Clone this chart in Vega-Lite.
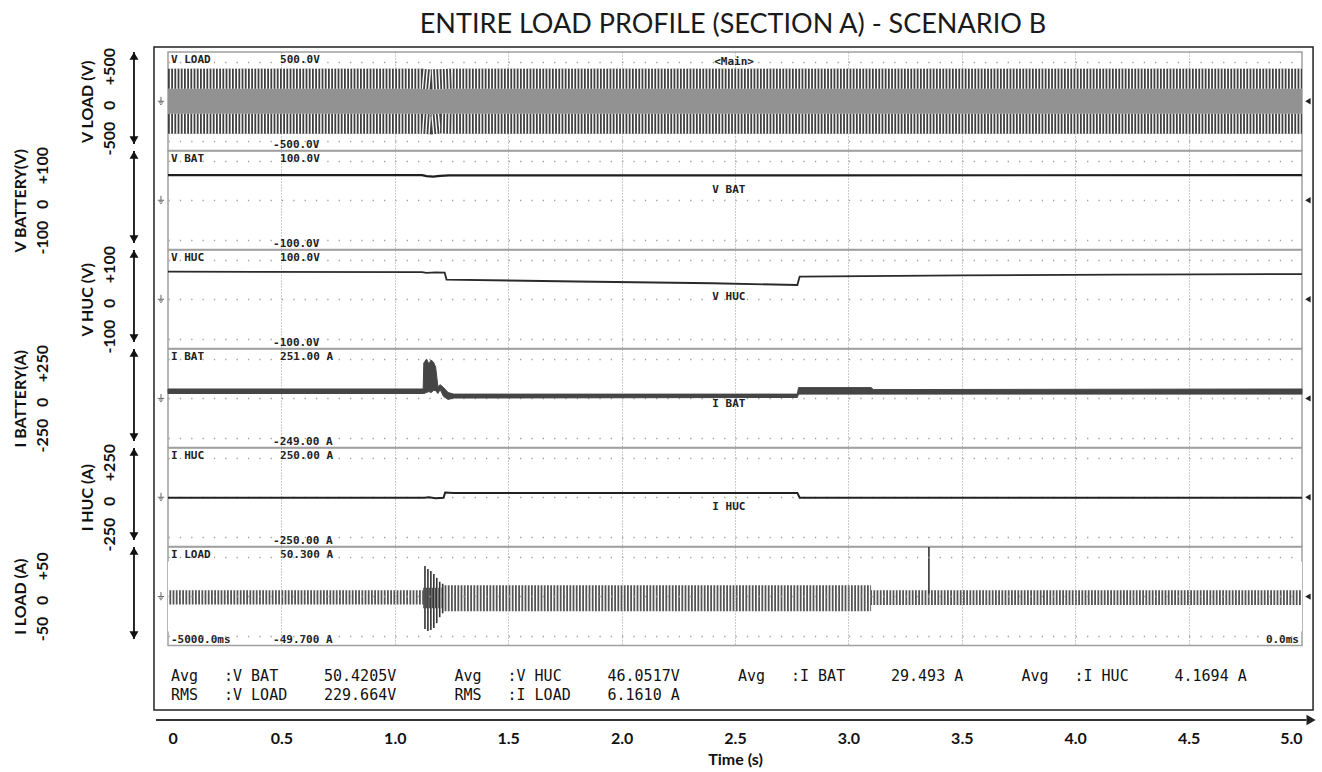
{
  "$schema": "https://vega.github.io/schema/vega-lite/v6.json",
  "background": "white",
  "padding": {"left": 11, "top": 10, "right": 6, "bottom": 4},
  "title": {"text": "ENTIRE LOAD PROFILE (SECTION A) - SCENARIO B", "font": "Lato", "fontSize": 27, "fontWeight": "normal", "color": "#1a1a1a", "anchor": "middle", "offset": -1, "dx": 6},
  "config": {
    "view": {"stroke": "#a0a0a0", "strokeWidth": 1.5},
    "axis": {"titleFont": "Lato", "titleFontSize": 16, "titleFontWeight": "bold", "titleColor": "#111111", "labelFont": "Lato"}
  },
  "data": {"values": [{}]},
  "datasets": {
    "vload": [
      {"t": 0, "hi": 330, "lo": -330},
      {"t": 1.12, "hi": 330, "lo": -330},
      {"t": 1.16, "hi": 322, "lo": -336},
      {"t": 1.2, "hi": 326, "lo": -328},
      {"t": 1.25, "hi": 330, "lo": -330},
      {"t": 5, "hi": 330, "lo": -330}
    ],
    "vbat": [
      {"t": 0, "v": 51}, {"t": 1.12, "v": 51}, {"t": 1.14, "v": 49}, {"t": 1.17, "v": 48},
      {"t": 1.2, "v": 49.5}, {"t": 1.24, "v": 50.5}, {"t": 2.78, "v": 50.5}, {"t": 5, "v": 51}
    ],
    "vhuc": [
      {"t": 0, "v": 56}, {"t": 1.12, "v": 55.2}, {"t": 1.14, "v": 53.5}, {"t": 1.18, "v": 54.5},
      {"t": 1.22, "v": 54}, {"t": 1.228, "v": 40}, {"t": 1.8, "v": 36}, {"t": 2.4, "v": 32.5},
      {"t": 2.775, "v": 29}, {"t": 2.785, "v": 46}, {"t": 3.5, "v": 48.5}, {"t": 4.2, "v": 50}, {"t": 5, "v": 51}
    ],
    "ibat": [
      {"t": 0, "hi": 48, "lo": 25}, {"t": 1.125, "hi": 48, "lo": 25}, {"t": 1.128, "hi": 180, "lo": 25},
      {"t": 1.14, "hi": 200, "lo": 30}, {"t": 1.15, "hi": 175, "lo": 35}, {"t": 1.16, "hi": 195, "lo": 30},
      {"t": 1.17, "hi": 185, "lo": 40}, {"t": 1.18, "hi": 160, "lo": 40}, {"t": 1.19, "hi": 60, "lo": 25},
      {"t": 1.2, "hi": 70, "lo": 45}, {"t": 1.215, "hi": 55, "lo": 10}, {"t": 1.235, "hi": 30, "lo": -5},
      {"t": 1.26, "hi": 22, "lo": 2}, {"t": 2.775, "hi": 22, "lo": 5}, {"t": 2.78, "hi": 55, "lo": 22},
      {"t": 3.1, "hi": 55, "lo": 22}, {"t": 3.11, "hi": 45, "lo": 22}, {"t": 5, "hi": 48, "lo": 22}
    ],
    "ihuc": [
      {"t": 0, "v": -3}, {"t": 1.13, "v": -3}, {"t": 1.15, "v": 0}, {"t": 1.18, "v": -5},
      {"t": 1.215, "v": -3}, {"t": 1.222, "v": 24}, {"t": 1.26, "v": 22}, {"t": 2.775, "v": 22},
      {"t": 2.785, "v": -2}, {"t": 5, "v": -3}
    ],
    "iload": [
      {"t": 0, "hi": 6.5, "lo": -8}, {"t": 1.125, "hi": 9, "lo": -12}, {"t": 1.215, "hi": 11.5, "lo": -15},
      {"t": 3.1, "hi": 6.5, "lo": -8.5}, {"t": 5, "hi": 6.5, "lo": -8.5}
    ],
    "ispk": [
      {"t": 1.133, "hi": 31, "lo": -33}, {"t": 1.146, "hi": 28, "lo": -35}, {"t": 1.159, "hi": 26, "lo": -34},
      {"t": 1.172, "hi": 23, "lo": -32}, {"t": 1.185, "hi": 19, "lo": -27}, {"t": 1.198, "hi": 15, "lo": -21},
      {"t": 1.211, "hi": 13, "lo": -17}, {"t": 3.355, "hi": 50.3, "lo": 3}
    ],
    "stats": [
      {"line": 1, "grp": 0, "kind": "Avg", "ch": ":V BAT", "val": "50.4205V"},
      {"line": 1, "grp": 1, "kind": "Avg", "ch": ":V HUC", "val": "46.0517V"},
      {"line": 1, "grp": 2, "kind": "Avg", "ch": ":I BAT", "val": "29.493 A"},
      {"line": 1, "grp": 3, "kind": "Avg", "ch": ":I HUC", "val": "4.1694 A"},
      {"line": 2, "grp": 0, "kind": "RMS", "ch": ":V LOAD", "val": "229.664V"},
      {"line": 2, "grp": 1, "kind": "RMS", "ch": ":I LOAD", "val": "6.1610 A"}
    ]
  },
  "spacing": 0,
  "bounds": "flush",
  "resolve": {"scale": {"x": "independent", "y": "independent"}},
  "vconcat": [
    {
      "width": 1134, "height": 98.5,
      "layer": [
        {"data": {"name": "vload"}, "mark": {"type": "area", "color": "#929292"},
         "encoding": {
           "x": {"field": "t", "type": "quantitative", "scale": {"domain": [0, 5], "nice": false, "zero": false},
                 "axis": {"values": [0.5, 1, 1.5, 2, 2.5, 3, 3.5, 4, 4.5], "grid": true, "gridDash": [1, 2], "gridColor": "#999999", "gridWidth": 1, "labels": false, "ticks": false, "domain": false, "title": null}},
           "y": {"field": "hi", "type": "quantitative", "scale": {"domain": [-500, 500], "nice": false, "zero": false},
                 "axis": {"values": [-400, -300, -200, -100, 0, 100, 200, 300, 400], "grid": true, "gridDash": [1.3, 10.04], "gridColor": "#a0a0a0", "gridWidth": 1.3, "labels": false, "ticks": false, "domain": false,
                          "title": ["V LOAD (V)", "-500\u00a0\u00a0\u00a00\u00a0\u00a0\u00a0\u00a0+500"], "titlePadding": 51, "titleLineHeight": 22, "titleAngle": -90, "titleBaseline": "bottom", "titleAlign": "center"}},
           "y2": {"field": "lo"}
         }},
        {"data": {"name": "vload"}, "mark": {"type": "line", "color": "#ffffff", "strokeWidth": 20, "yOffset": 10},
         "encoding": {"x": {"field": "t", "type": "quantitative"}, "y": {"field": "hi", "type": "quantitative"}}},
        {"data": {"name": "vload"}, "mark": {"type": "line", "color": "#404040", "strokeWidth": 20, "yOffset": 10, "strokeDash": [1.8, 1.4]},
         "encoding": {"x": {"field": "t", "type": "quantitative"}, "y": {"field": "hi", "type": "quantitative"}}},
        {"data": {"name": "vload"}, "mark": {"type": "line", "color": "#ffffff", "strokeWidth": 20, "yOffset": -10},
         "encoding": {"x": {"field": "t", "type": "quantitative"}, "y": {"field": "lo", "type": "quantitative"}}},
        {"data": {"name": "vload"}, "mark": {"type": "line", "color": "#404040", "strokeWidth": 20, "yOffset": -10, "strokeDash": [1.8, 1.4]},
         "encoding": {"x": {"field": "t", "type": "quantitative"}, "y": {"field": "lo", "type": "quantitative"}}},
        {"mark": {"type": "rule", "color": "#111111", "strokeWidth": 1.8}, "encoding": {"x": {"datum": -0.15}, "y": {"datum": 500}, "y2": {"datum": -435}}},
        {"mark": {"type": "point", "shape": "triangle-up", "size": 80, "filled": true, "color": "#111111", "opacity": 1, "yOffset": 4}, "encoding": {"x": {"datum": -0.15}, "y": {"datum": 500}}},
        {"mark": {"type": "point", "shape": "triangle-down", "size": 80, "filled": true, "color": "#111111", "opacity": 1, "yOffset": -4}, "encoding": {"x": {"datum": -0.15}, "y": {"datum": -435}}},
        {"mark": {"type": "point", "shape": "M0,-1.4V0M-1,0H1M-0.6,0.5H0.6M-0.25,1H0.25", "size": 40, "filled": false, "color": "#666666", "strokeWidth": 1, "opacity": 1}, "encoding": {"x": {"datum": -0.031}, "y": {"datum": 0}}},
        {"mark": {"type": "point", "shape": "triangle-left", "size": 40, "filled": true, "color": "#222222", "opacity": 1}, "encoding": {"x": {"datum": 5.026}, "y": {"datum": 0}}},
        {"mark": {"type": "text", "text": "V LOAD", "font": "DejaVu Sans Mono", "fontSize": 11, "fontWeight": "bold", "color": "#222222", "align": "left", "baseline": "top", "dx": 3, "dy": 2}, "encoding": {"x": {"datum": 0}, "y": {"datum": 500}}},
        {"mark": {"type": "text", "text": "500.0V", "font": "DejaVu Sans Mono", "fontSize": 11, "fontWeight": "bold", "color": "#222222", "align": "left", "baseline": "top", "dy": 2}, "encoding": {"x": {"datum": 0.494}, "y": {"datum": 500}}},
        {"mark": {"type": "text", "text": "<Main>", "font": "DejaVu Sans Mono", "fontSize": 11, "fontWeight": "bold", "color": "#222222", "align": "center", "baseline": "top", "dy": 4}, "encoding": {"x": {"datum": 2.496}, "y": {"datum": 500}}},
        {"mark": {"type": "text", "text": "-500.0V", "font": "DejaVu Sans Mono", "fontSize": 11, "fontWeight": "bold", "color": "#222222", "align": "left", "baseline": "bottom", "dy": -1}, "encoding": {"x": {"datum": 0.463}, "y": {"datum": -500}}}
      ]
    },
    {
      "width": 1134, "height": 98.5,
      "layer": [
        {"data": {"name": "vbat"}, "mark": {"type": "line", "color": "#1e1e1e", "strokeWidth": 2.2},
         "encoding": {
           "x": {"field": "t", "type": "quantitative", "scale": {"domain": [0, 5], "nice": false, "zero": false},
                 "axis": {"values": [0.5, 1, 1.5, 2, 2.5, 3, 3.5, 4, 4.5], "grid": true, "gridDash": [1, 2], "gridColor": "#999999", "gridWidth": 1, "labels": false, "ticks": false, "domain": false, "title": null}},
           "y": {"field": "v", "type": "quantitative", "scale": {"domain": [-100, 100], "nice": false, "zero": false},
                 "axis": {"values": [-80, -60, -40, -20, 0, 20, 40, 60, 80], "grid": true, "gridDash": [1.3, 10.04], "gridColor": "#a0a0a0", "gridWidth": 1.3, "labels": false, "ticks": false, "domain": false,
                          "title": ["V BATTERY(V)", "-100\u00a0\u00a0\u00a00\u00a0\u00a0\u00a0\u00a0+100"], "titlePadding": 118, "titleLineHeight": 22, "titleAngle": -90, "titleBaseline": "bottom", "titleAlign": "center"}}
         }},
        {"mark": {"type": "rule", "color": "#111111", "strokeWidth": 1.8}, "encoding": {"x": {"datum": -0.15}, "y": {"datum": 100}, "y2": {"datum": -87}}},
        {"mark": {"type": "point", "shape": "triangle-up", "size": 80, "filled": true, "color": "#111111", "opacity": 1, "yOffset": 4}, "encoding": {"x": {"datum": -0.15}, "y": {"datum": 100}}},
        {"mark": {"type": "point", "shape": "triangle-down", "size": 80, "filled": true, "color": "#111111", "opacity": 1, "yOffset": -4}, "encoding": {"x": {"datum": -0.15}, "y": {"datum": -87}}},
        {"mark": {"type": "point", "shape": "M0,-1.4V0M-1,0H1M-0.6,0.5H0.6M-0.25,1H0.25", "size": 40, "filled": false, "color": "#666666", "strokeWidth": 1, "opacity": 1}, "encoding": {"x": {"datum": -0.031}, "y": {"datum": 0}}},
        {"mark": {"type": "point", "shape": "triangle-left", "size": 40, "filled": true, "color": "#222222", "opacity": 1}, "encoding": {"x": {"datum": 5.026}, "y": {"datum": 0}}},
        {"mark": {"type": "text", "text": "V BAT", "font": "DejaVu Sans Mono", "fontSize": 11, "fontWeight": "bold", "color": "#222222", "align": "left", "baseline": "top", "dx": 3, "dy": 2}, "encoding": {"x": {"datum": 0}, "y": {"datum": 100}}},
        {"mark": {"type": "text", "text": "100.0V", "font": "DejaVu Sans Mono", "fontSize": 11, "fontWeight": "bold", "color": "#222222", "align": "left", "baseline": "top", "dy": 2}, "encoding": {"x": {"datum": 0.494}, "y": {"datum": 100}}},
        {"mark": {"type": "text", "text": "V BAT", "font": "DejaVu Sans Mono", "fontSize": 11, "fontWeight": "bold", "color": "#222222", "align": "left", "baseline": "middle"}, "encoding": {"x": {"datum": 2.4}, "y": {"datum": 21.8}}},
        {"mark": {"type": "text", "text": "-100.0V", "font": "DejaVu Sans Mono", "fontSize": 11, "fontWeight": "bold", "color": "#222222", "align": "left", "baseline": "bottom", "dy": -1}, "encoding": {"x": {"datum": 0.463}, "y": {"datum": -100}}}
      ]
    },
    {
      "width": 1134, "height": 98.5,
      "layer": [
        {"data": {"name": "vhuc"}, "mark": {"type": "line", "color": "#2a2a2a", "strokeWidth": 1.8},
         "encoding": {
           "x": {"field": "t", "type": "quantitative", "scale": {"domain": [0, 5], "nice": false, "zero": false},
                 "axis": {"values": [0.5, 1, 1.5, 2, 2.5, 3, 3.5, 4, 4.5], "grid": true, "gridDash": [1, 2], "gridColor": "#999999", "gridWidth": 1, "labels": false, "ticks": false, "domain": false, "title": null}},
           "y": {"field": "v", "type": "quantitative", "scale": {"domain": [-100, 100], "nice": false, "zero": false},
                 "axis": {"values": [-80, -60, -40, -20, 0, 20, 40, 60, 80], "grid": true, "gridDash": [1.3, 10.04], "gridColor": "#a0a0a0", "gridWidth": 1.3, "labels": false, "ticks": false, "domain": false,
                          "title": ["V HUC (V)", "-100\u00a0\u00a0\u00a00\u00a0\u00a0\u00a0\u00a0+100"], "titlePadding": 51, "titleLineHeight": 22, "titleAngle": -90, "titleBaseline": "bottom", "titleAlign": "center"}}
         }},
        {"mark": {"type": "rule", "color": "#111111", "strokeWidth": 1.8}, "encoding": {"x": {"datum": -0.15}, "y": {"datum": 100}, "y2": {"datum": -87}}},
        {"mark": {"type": "point", "shape": "triangle-up", "size": 80, "filled": true, "color": "#111111", "opacity": 1, "yOffset": 4}, "encoding": {"x": {"datum": -0.15}, "y": {"datum": 100}}},
        {"mark": {"type": "point", "shape": "triangle-down", "size": 80, "filled": true, "color": "#111111", "opacity": 1, "yOffset": -4}, "encoding": {"x": {"datum": -0.15}, "y": {"datum": -87}}},
        {"mark": {"type": "point", "shape": "M0,-1.4V0M-1,0H1M-0.6,0.5H0.6M-0.25,1H0.25", "size": 40, "filled": false, "color": "#666666", "strokeWidth": 1, "opacity": 1}, "encoding": {"x": {"datum": -0.031}, "y": {"datum": 0}}},
        {"mark": {"type": "point", "shape": "triangle-left", "size": 40, "filled": true, "color": "#222222", "opacity": 1}, "encoding": {"x": {"datum": 5.026}, "y": {"datum": 0}}},
        {"mark": {"type": "text", "text": "V HUC", "font": "DejaVu Sans Mono", "fontSize": 11, "fontWeight": "bold", "color": "#222222", "align": "left", "baseline": "top", "dx": 3, "dy": 2}, "encoding": {"x": {"datum": 0}, "y": {"datum": 100}}},
        {"mark": {"type": "text", "text": "100.0V", "font": "DejaVu Sans Mono", "fontSize": 11, "fontWeight": "bold", "color": "#222222", "align": "left", "baseline": "top", "dy": 2}, "encoding": {"x": {"datum": 0.494}, "y": {"datum": 100}}},
        {"mark": {"type": "text", "text": "V HUC", "font": "DejaVu Sans Mono", "fontSize": 11, "fontWeight": "bold", "color": "#222222", "align": "left", "baseline": "middle"}, "encoding": {"x": {"datum": 2.4}, "y": {"datum": 4.6}}},
        {"mark": {"type": "text", "text": "-100.0V", "font": "DejaVu Sans Mono", "fontSize": 11, "fontWeight": "bold", "color": "#222222", "align": "left", "baseline": "bottom", "dy": -1}, "encoding": {"x": {"datum": 0.463}, "y": {"datum": -100}}}
      ]
    },
    {
      "width": 1134, "height": 98.5,
      "layer": [
        {"data": {"name": "ibat"}, "mark": {"type": "area", "color": "#454545", "stroke": "#454545", "strokeWidth": 1},
         "encoding": {
           "x": {"field": "t", "type": "quantitative", "scale": {"domain": [0, 5], "nice": false, "zero": false},
                 "axis": {"values": [0.5, 1, 1.5, 2, 2.5, 3, 3.5, 4, 4.5], "grid": true, "gridDash": [1, 2], "gridColor": "#999999", "gridWidth": 1, "labels": false, "ticks": false, "domain": false, "title": null}},
           "y": {"field": "hi", "type": "quantitative", "scale": {"domain": [-249, 251], "nice": false, "zero": false},
                 "axis": {"values": [-199, -149, -99, -49, 1, 51, 101, 151, 201], "grid": true, "gridDash": [1.3, 10.04], "gridColor": "#a0a0a0", "gridWidth": 1.3, "labels": false, "ticks": false, "domain": false,
                          "title": ["I BATTERY(A)", "-250\u00a0\u00a0\u00a00\u00a0\u00a0\u00a0\u00a0+250"], "titlePadding": 118, "titleLineHeight": 22, "titleAngle": -90, "titleBaseline": "bottom", "titleAlign": "center"}},
           "y2": {"field": "lo"}
         }},
        {"mark": {"type": "rule", "color": "#111111", "strokeWidth": 1.8}, "encoding": {"x": {"datum": -0.15}, "y": {"datum": 251}, "y2": {"datum": -216.5}}},
        {"mark": {"type": "point", "shape": "triangle-up", "size": 80, "filled": true, "color": "#111111", "opacity": 1, "yOffset": 4}, "encoding": {"x": {"datum": -0.15}, "y": {"datum": 251}}},
        {"mark": {"type": "point", "shape": "triangle-down", "size": 80, "filled": true, "color": "#111111", "opacity": 1, "yOffset": -4}, "encoding": {"x": {"datum": -0.15}, "y": {"datum": -216.5}}},
        {"mark": {"type": "point", "shape": "M0,-1.4V0M-1,0H1M-0.6,0.5H0.6M-0.25,1H0.25", "size": 40, "filled": false, "color": "#666666", "strokeWidth": 1, "opacity": 1}, "encoding": {"x": {"datum": -0.031}, "y": {"datum": 0}}},
        {"mark": {"type": "point", "shape": "triangle-left", "size": 40, "filled": true, "color": "#222222", "opacity": 1}, "encoding": {"x": {"datum": 5.026}, "y": {"datum": 0}}},
        {"mark": {"type": "text", "text": "I BAT", "font": "DejaVu Sans Mono", "fontSize": 11, "fontWeight": "bold", "color": "#222222", "align": "left", "baseline": "top", "dx": 3, "dy": 2}, "encoding": {"x": {"datum": 0}, "y": {"datum": 251}}},
        {"mark": {"type": "text", "text": "251.00 A", "font": "DejaVu Sans Mono", "fontSize": 11, "fontWeight": "bold", "color": "#222222", "align": "left", "baseline": "top", "dy": 2}, "encoding": {"x": {"datum": 0.494}, "y": {"datum": 251}}},
        {"mark": {"type": "text", "text": "I BAT", "font": "DejaVu Sans Mono", "fontSize": 11, "fontWeight": "bold", "color": "#222222", "align": "left", "baseline": "middle"}, "encoding": {"x": {"datum": 2.4}, "y": {"datum": -30.7}}},
        {"mark": {"type": "text", "text": "-249.00 A", "font": "DejaVu Sans Mono", "fontSize": 11, "fontWeight": "bold", "color": "#222222", "align": "left", "baseline": "bottom", "dy": -1}, "encoding": {"x": {"datum": 0.463}, "y": {"datum": -249}}}
      ]
    },
    {
      "width": 1134, "height": 98.5,
      "layer": [
        {"data": {"name": "ihuc"}, "mark": {"type": "line", "color": "#222222", "strokeWidth": 2},
         "encoding": {
           "x": {"field": "t", "type": "quantitative", "scale": {"domain": [0, 5], "nice": false, "zero": false},
                 "axis": {"values": [0.5, 1, 1.5, 2, 2.5, 3, 3.5, 4, 4.5], "grid": true, "gridDash": [1, 2], "gridColor": "#999999", "gridWidth": 1, "labels": false, "ticks": false, "domain": false, "title": null}},
           "y": {"field": "v", "type": "quantitative", "scale": {"domain": [-250, 250], "nice": false, "zero": false},
                 "axis": {"values": [-200, -150, -100, -50, 0, 50, 100, 150, 200], "grid": true, "gridDash": [1.3, 10.04], "gridColor": "#a0a0a0", "gridWidth": 1.3, "labels": false, "ticks": false, "domain": false,
                          "title": ["I HUC (A)", "-250\u00a0\u00a0\u00a00\u00a0\u00a0\u00a0\u00a0+250"], "titlePadding": 51, "titleLineHeight": 22, "titleAngle": -90, "titleBaseline": "bottom", "titleAlign": "center"}}
         }},
        {"mark": {"type": "rule", "color": "#111111", "strokeWidth": 1.8}, "encoding": {"x": {"datum": -0.15}, "y": {"datum": 250}, "y2": {"datum": -217.5}}},
        {"mark": {"type": "point", "shape": "triangle-up", "size": 80, "filled": true, "color": "#111111", "opacity": 1, "yOffset": 4}, "encoding": {"x": {"datum": -0.15}, "y": {"datum": 250}}},
        {"mark": {"type": "point", "shape": "triangle-down", "size": 80, "filled": true, "color": "#111111", "opacity": 1, "yOffset": -4}, "encoding": {"x": {"datum": -0.15}, "y": {"datum": -217.5}}},
        {"mark": {"type": "point", "shape": "M0,-1.4V0M-1,0H1M-0.6,0.5H0.6M-0.25,1H0.25", "size": 40, "filled": false, "color": "#666666", "strokeWidth": 1, "opacity": 1}, "encoding": {"x": {"datum": -0.031}, "y": {"datum": 0}}},
        {"mark": {"type": "point", "shape": "triangle-left", "size": 40, "filled": true, "color": "#222222", "opacity": 1}, "encoding": {"x": {"datum": 5.026}, "y": {"datum": 0}}},
        {"mark": {"type": "text", "text": "I HUC", "font": "DejaVu Sans Mono", "fontSize": 11, "fontWeight": "bold", "color": "#222222", "align": "left", "baseline": "top", "dx": 3, "dy": 2}, "encoding": {"x": {"datum": 0}, "y": {"datum": 250}}},
        {"mark": {"type": "text", "text": "250.00 A", "font": "DejaVu Sans Mono", "fontSize": 11, "fontWeight": "bold", "color": "#222222", "align": "left", "baseline": "top", "dy": 2}, "encoding": {"x": {"datum": 0.494}, "y": {"datum": 250}}},
        {"mark": {"type": "text", "text": "I HUC", "font": "DejaVu Sans Mono", "fontSize": 11, "fontWeight": "bold", "color": "#222222", "align": "left", "baseline": "middle"}, "encoding": {"x": {"datum": 2.4}, "y": {"datum": -49.5}}},
        {"mark": {"type": "text", "text": "-250.00 A", "font": "DejaVu Sans Mono", "fontSize": 11, "fontWeight": "bold", "color": "#222222", "align": "left", "baseline": "bottom", "dy": -1}, "encoding": {"x": {"datum": 0.463}, "y": {"datum": -250}}}
      ]
    },
    {
      "width": 1134, "height": 98.5,
      "layer": [
        {"data": {"name": "iload"}, "mark": {"type": "area", "color": "#555555", "interpolate": "step-after"},
         "encoding": {
           "x": {"field": "t", "type": "quantitative", "scale": {"domain": [0, 5], "nice": false, "zero": false},
                 "axis": {"values": [0.5, 1, 1.5, 2, 2.5, 3, 3.5, 4, 4.5], "grid": true, "gridDash": [1, 2], "gridColor": "#999999", "gridWidth": 1, "labels": false, "ticks": false, "domain": false, "title": null, "zindex": 1}},
           "y": {"field": "hi", "type": "quantitative", "scale": {"domain": [-49.7, 50.3], "nice": false, "zero": false},
                 "axis": {"values": [-39.7, -29.7, -19.7, -9.7, 0.3, 10.3, 20.3, 30.3, 40.3], "grid": true, "gridDash": [1.3, 10.04], "gridColor": "#a0a0a0", "gridWidth": 1.3, "labels": false, "ticks": false, "domain": false, "zindex": 1,
                          "title": ["I LOAD (A)", "-50\u00a0\u00a0\u00a00\u00a0\u00a0\u00a0\u00a0+50"], "titlePadding": 118, "titleLineHeight": 22, "titleAngle": -90, "titleBaseline": "bottom", "titleAlign": "center"}},
           "y2": {"field": "lo"}
         }},
        {"data": {"name": "iload"}, "mark": {"type": "line", "color": "#ffffff", "strokeWidth": 70, "strokeDash": [1.4, 1.8]},
         "encoding": {"x": {"field": "t", "type": "quantitative"}, "y": {"datum": 0}}},
        {"data": {"name": "ispk"}, "mark": {"type": "rule", "color": "#333333", "strokeWidth": 1.6},
         "encoding": {"x": {"field": "t", "type": "quantitative"}, "y": {"field": "hi", "type": "quantitative"}, "y2": {"field": "lo"}}},
        {"mark": {"type": "rule", "color": "#111111", "strokeWidth": 1.8}, "encoding": {"x": {"datum": -0.15}, "y": {"datum": 50.3}, "y2": {"datum": -43.2}}},
        {"mark": {"type": "point", "shape": "triangle-up", "size": 80, "filled": true, "color": "#111111", "opacity": 1, "yOffset": 4}, "encoding": {"x": {"datum": -0.15}, "y": {"datum": 50.3}}},
        {"mark": {"type": "point", "shape": "triangle-down", "size": 80, "filled": true, "color": "#111111", "opacity": 1, "yOffset": -4}, "encoding": {"x": {"datum": -0.15}, "y": {"datum": -43.2}}},
        {"mark": {"type": "point", "shape": "M0,-1.4V0M-1,0H1M-0.6,0.5H0.6M-0.25,1H0.25", "size": 40, "filled": false, "color": "#666666", "strokeWidth": 1, "opacity": 1}, "encoding": {"x": {"datum": -0.031}, "y": {"datum": 0}}},
        {"mark": {"type": "point", "shape": "triangle-left", "size": 40, "filled": true, "color": "#222222", "opacity": 1}, "encoding": {"x": {"datum": 5.026}, "y": {"datum": 0}}},
        {"mark": {"type": "text", "text": "I LOAD", "font": "DejaVu Sans Mono", "fontSize": 11, "fontWeight": "bold", "color": "#222222", "align": "left", "baseline": "top", "dx": 3, "dy": 2}, "encoding": {"x": {"datum": 0}, "y": {"datum": 50.3}}},
        {"mark": {"type": "text", "text": "50.300 A", "font": "DejaVu Sans Mono", "fontSize": 11, "fontWeight": "bold", "color": "#222222", "align": "left", "baseline": "top", "dy": 2}, "encoding": {"x": {"datum": 0.494}, "y": {"datum": 50.3}}},
        {"mark": {"type": "text", "text": "-5000.0ms", "font": "DejaVu Sans Mono", "fontSize": 11, "fontWeight": "bold", "color": "#222222", "align": "left", "baseline": "bottom", "dx": 3, "dy": -1}, "encoding": {"x": {"datum": 0}, "y": {"datum": -49.7}}},
        {"mark": {"type": "text", "text": "-49.700 A", "font": "DejaVu Sans Mono", "fontSize": 11, "fontWeight": "bold", "color": "#222222", "align": "left", "baseline": "bottom", "dy": -1}, "encoding": {"x": {"datum": 0.463}, "y": {"datum": -49.7}}},
        {"mark": {"type": "text", "text": "0.0ms", "font": "DejaVu Sans Mono", "fontSize": 11, "fontWeight": "bold", "color": "#222222", "align": "right", "baseline": "bottom", "dx": -3, "dy": -1}, "encoding": {"x": {"datum": 5}, "y": {"datum": -49.7}}}
      ]
    },
    {
      "width": 1134, "height": 64,
      "view": {"stroke": null},
      "layer": [
        {"data": {"name": "stats"}, "mark": {"type": "text", "font": "DejaVu Sans Mono", "fontSize": 15, "color": "#111111", "align": "left", "baseline": "middle", "dx": 3},
         "encoding": {
           "x": {"field": "grp", "type": "quantitative", "scale": {"domain": [0, 4], "nice": false, "zero": false}, "axis": null},
           "y": {"field": "line", "type": "quantitative", "scale": {"domain": [2.789, -0.579], "nice": false, "zero": false}, "axis": null},
           "text": {"field": "kind"}
         }},
        {"data": {"name": "stats"}, "mark": {"type": "text", "font": "DejaVu Sans Mono", "fontSize": 15, "color": "#111111", "align": "left", "baseline": "middle", "dx": 56},
         "encoding": {"x": {"field": "grp", "type": "quantitative"}, "y": {"field": "line", "type": "quantitative"}, "text": {"field": "ch"}}},
        {"data": {"name": "stats"}, "mark": {"type": "text", "font": "DejaVu Sans Mono", "fontSize": 15, "color": "#111111", "align": "left", "baseline": "middle", "dx": 156},
         "encoding": {"x": {"field": "grp", "type": "quantitative"}, "y": {"field": "line", "type": "quantitative"}, "text": {"field": "val"}}},
        {"mark": {"type": "rect", "fill": null, "stroke": "#222222", "strokeWidth": 1.5},
         "encoding": {"x": {"datum": -0.0494}, "x2": {"datum": 4.039}, "y": {"datum": 2.789}, "y2": {"datum": -32.1}}}
      ]
    },
    {
      "width": 1134, "height": 10,
      "view": {"stroke": null},
      "layer": [
        {"mark": {"type": "rule", "color": "#333333", "strokeWidth": 2},
         "encoding": {
           "x": {"datum": -0.053, "type": "quantitative", "scale": {"domain": [0, 5], "nice": false, "zero": false},
                 "axis": {"values": [0, 0.5, 1, 1.5, 2, 2.5, 3, 3.5, 4, 4.5, 5], "labelExpr": "datum.value == 0 ? '0' : format(datum.value, '.1f')", "labels": true, "labelFont": "Lato", "labelFontSize": 16, "labelFontWeight": "bold", "labelColor": "#111111", "labelPadding": 10, "labelFlush": true, "ticks": false, "domain": false, "grid": false, "title": "Time (s)", "titlePadding": 5}},
           "x2": {"datum": 5.02},
           "y": {"datum": 0, "type": "quantitative", "scale": {"domain": [0, 1]}, "axis": null}
         }},
        {"mark": {"type": "point", "shape": "triangle-right", "size": 110, "filled": true, "color": "#222222", "opacity": 1},
         "encoding": {"x": {"datum": 5.04}, "y": {"datum": 0}}}
      ]
    }
  ]
}
